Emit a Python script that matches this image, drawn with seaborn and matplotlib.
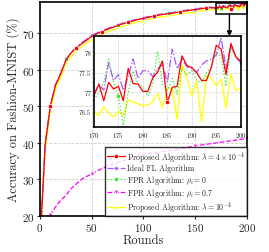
import numpy as np
import pandas as pd
import matplotlib
matplotlib.use("Agg")
import matplotlib.pyplot as plt
import matplotlib.patches as patches
import seaborn as sns

# ---------------- data ----------------
rounds_main = list(range(0, 170, 5))
rounds_zoom = list(range(170, 201))

red_main = [12, 39.5, 50.2, 55.8, 58.9, 62.6, 64.6, 66.0, 67.1, 68.1, 69.2, 69.9, 70.5, 71.1,
            71.6, 72.1, 72.6, 73.0, 73.4, 73.8, 74.1, 74.4, 74.7, 75.0, 75.2, 75.4, 75.6, 75.9,
            76.1, 76.3, 76.5, 76.7, 76.9, 77.0]
purple_main = [12, 40.0, 50.0, 56.0, 59.2, 62.8, 64.8, 66.2, 67.4, 68.4, 69.6, 70.1, 70.7, 71.3,
               71.8, 72.3, 72.8, 73.2, 73.6, 74.0, 74.3, 74.6, 74.9, 75.2, 75.4, 75.6, 75.8, 76.1,
               76.3, 76.5, 76.7, 76.9, 77.1, 77.2]
green_main = [12, 39.8, 50.0, 55.6, 59.0, 62.9, 64.7, 66.1, 67.2, 68.2, 69.3, 69.9, 70.6, 71.2,
              71.7, 72.2, 72.7, 73.1, 73.5, 73.9, 74.2, 74.5, 74.8, 75.0, 75.3, 75.5, 75.7, 75.9,
              76.1, 76.4, 76.5, 76.7, 76.9, 77.1]
yellow_main = [15, 38.0, 48.8, 54.8, 58.0, 61.5, 63.6, 65.1, 66.2, 67.3, 68.4, 69.1, 69.7, 70.4,
               70.9, 71.4, 71.9, 72.3, 72.8, 73.2, 73.5, 73.8, 74.1, 74.4, 74.6, 74.8, 75.0, 75.3,
               75.5, 75.7, 75.9, 76.1, 76.2, 76.4]

red_zoom = [76.91, 77.21, 76.78, 77.25, 77.08, 77.15, 76.78, 77.61, 77.22, 77.21, 77.02, 77.02,
            77.36, 77.51, 77.80, 76.74, 77.12, 77.15, 77.93, 77.68, 77.63, 77.5, 77.3, 77.3,
            77.64, 78.2, 78.1, 77.45, 78.25, 77.9, 77.8]
purple_zoom = [76.95, 77.2, 77.05, 77.75, 77.3, 77.45, 77.05, 77.4, 77.85, 77.35, 77.55, 77.55,
               77.4, 77.6, 77.7, 77.25, 78.1, 77.6, 77.85, 77.65, 77.6, 77.5, 77.7, 77.8, 77.85,
               77.95, 78.4, 77.6, 78.2, 77.9, 77.75]
green_zoom = [76.8, 77.0, 77.25, 77.85, 77.25, 76.9, 76.15, 77.0, 77.55, 77.2, 77.15, 76.9,
              77.2, 78.05, 77.2, 77.05, 77.35, 76.95, 77.6, 77.45, 77.55, 77.3, 77.25, 77.5,
              77.65, 78.05, 77.9, 77.15, 78.15, 77.9, 77.75]
yellow_zoom = [76.52, 76.4, 76.63, 76.46, 76.37, 76.51, 76.4, 76.8, 76.75, 76.7, 76.65, 76.67,
               76.75, 76.97, 76.6, 77.1, 77.1, 76.3, 77.7, 77.38, 76.9, 77.29, 76.24, 77.42,
               77.35, 77.16, 77.33, 76.59, 77.46, 77.04, 77.1]

magenta_rounds = [10, 15, 20, 25, 30, 40, 50, 60, 70, 80, 90, 100, 110, 125, 140, 150, 160, 175, 190, 200]
magenta_vals = [20.2, 22.5, 24.3, 25.6, 27.5, 30.0, 31.6, 33.0, 34.2, 35.1, 36.0, 36.8, 37.3,
                37.9, 38.6, 39.2, 39.6, 40.2, 40.8, 41.3]

labels = [r"Proposed Algorithm: $\lambda=4\times10^{-4}$",
          "Ideal FL Algorithm",
          r"FPR Algorithm: $\rho_i=0$",
          r"FPR Algorithm: $\rho_i=0.7$",
          r"Proposed Algorithm: $\lambda=10^{-4}$"]

x_ticks = [0, 50, 100, 150, 200]
y_ticks = [20, 30, 40, 50, 60, 70]
inset_x_ticks = [170, 175, 180, 185, 190, 195, 200]
inset_y_ticks = [76.5, 77, 77.5, 78]
inset_y_ticklabels = ["76.5", "77", "77.5", "78"]

# ---------------- style ----------------
sns.set_theme(style="white")
plt.rcParams["font.family"] = ["cmr10", "DejaVu Serif"]
plt.rcParams["mathtext.fontset"] = "cm"
plt.rcParams["axes.formatter.use_mathtext"] = True
plt.rcParams["axes.unicode_minus"] = False

rounds = rounds_main + rounds_zoom
series = {
    "red": red_main + red_zoom,
    "purple": purple_main + purple_zoom,
    "green": green_main + green_zoom,
    "yellow": yellow_main + yellow_zoom,
}

def idx(rlist, marks):
    return [rlist.index(r) for r in marks if r in rlist]

specs = [
    # key, color, linestyle, marker, mark rounds, label index
    ("yellow", "#ffff00", "-", "^", [10, 50, 100, 150, 200], 4),
    ("green", "#33ee33", ":", "s", [25, 50, 75, 100, 125, 150, 175], 2),
    ("purple", "#aa55ff", "-.", "D", [10, 50, 100, 150, 200], 1),
    ("red", "#ff0000", "-", "o", [10, 35, 60, 85, 110, 135, 160, 185], 0),
]

fig = plt.figure(figsize=(2.69, 2.53), dpi=100)
ax = fig.add_axes([0.1487, 0.1423, 0.7695, 0.8447])
ax_in = fig.add_axes([0.3494, 0.4929, 0.5454, 0.3597])

sns.lineplot(x=magenta_rounds, y=magenta_vals, ax=ax, color="#ff00ff", linestyle="--",
             marker="v", markersize=3.5, markevery=idx(magenta_rounds, [10, 50, 100, 150, 200]),
             lw=0.9, label=labels[3])
for key, col, ls, mk, marks, li in specs:
    ms = 2.6 if mk == "D" else 3.2
    sns.lineplot(x=rounds, y=series[key], ax=ax, color=col, linestyle=ls, marker=mk,
                 markersize=ms, markevery=idx(rounds, marks), lw=0.9, label=labels[li],
                 markeredgewidth=0.5)
    zr = rounds_zoom
    zv = series[key][len(rounds_main):]
    sns.lineplot(x=zr, y=zv, ax=ax_in, color=col, linestyle=ls, marker=mk,
                 markersize=ms, markevery=idx(zr, marks), lw=0.9, legend=False,
                 markeredgewidth=0.5)

h, l = ax.get_legend_handles_labels()
hm = dict(zip(l, h))
leg = ax.legend([hm[t] for t in labels], labels, loc="lower right", borderaxespad=0.0,
                fontsize=5.7, frameon=True, fancybox=False, edgecolor="black",
                handlelength=2.3, handletextpad=0.3, labelspacing=0.05, borderpad=0.2)
leg.get_frame().set_linewidth(1.0)
leg.set_zorder(5)

ax.set_xlim(0, 200)
ax.set_ylim(20, 78.5)
ax.set_xticks(x_ticks)
ax.set_yticks(y_ticks)
ax.set_xlabel("Rounds", fontsize=9, labelpad=1)
ax.set_ylabel("Accuracy on Fashion-MNIST (%)", fontsize=9, labelpad=2)
ax.tick_params(labelsize=8, length=2, width=0.8, pad=1.5, direction="out", left=True, bottom=True)
ax.grid(True, linestyle="--", color="#d0d0d0", lw=0.6)
for s in ax.spines.values():
    s.set_color("black")
    s.set_linewidth(1.2)

ax_in.set_xlim(170, 200)
ax_in.set_ylim(76.1, 78.43)
ax_in.set_xticks(inset_x_ticks)
ax_in.set_yticks(inset_y_ticks)
ax_in.set_yticklabels(inset_y_ticklabels)
ax_in.set_xlabel("")
ax_in.set_ylabel("")
ax_in.tick_params(labelsize=5.0, length=0, pad=2)
ax_in.grid(True, linestyle="--", color="#d0d0d0", lw=0.5)
ax_in.set_facecolor("white")
for s in ax_in.spines.values():
    s.set_color("black")
    s.set_linewidth(1.2)

rect = patches.Rectangle((170.3, 75.3), 29.7, 3.0, fill=False, edgecolor="black", lw=1.1,
                         clip_on=False, zorder=6)
ax.add_patch(rect)
# arrow from rectangle to inset top
inset_top_fig = 0.4929 + 0.3597
xy_disp = fig.transFigure.transform((0, inset_top_fig))
xy_data = ax.transData.inverted().transform(xy_disp)
ax.annotate("", xy=(183, xy_data[1]), xytext=(183, 75.3),
            arrowprops=dict(arrowstyle="-|>", color="black", lw=1.0, mutation_scale=7,
                            shrinkA=0, shrinkB=0), zorder=7)

fig.savefig("out.png", dpi=100)
